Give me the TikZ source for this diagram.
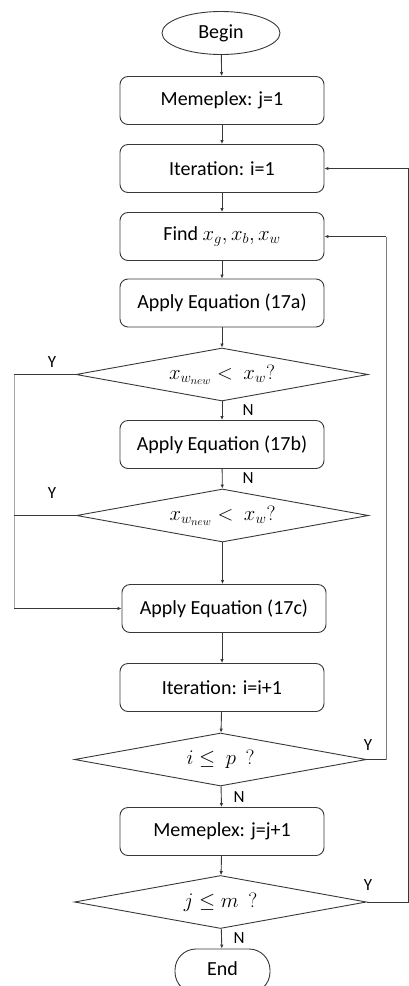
\documentclass[tikz,border=0pt]{standalone}
\usepackage{fontspec}
\setmainfont{Carlito}
\usetikzlibrary{shapes.geometric,arrows.meta}
\definecolor{ln}{HTML}{383838}
\begin{document}
\begin{tikzpicture}[x=1pt,y=-1pt,
  every node/.style={font=\fontsize{20}{24}\selectfont, text=black},
  box/.style={draw=ln, line width=0.9pt, rounded corners=8pt, minimum width=204pt, minimum height=48pt, inner sep=0pt},
  dec/.style={draw=ln, line width=0.9pt, diamond, shape aspect=5.5, minimum width=292pt, minimum height=53pt, inner sep=0pt, font=\fontsize{21}{24}\selectfont},
  lab/.style={font=\fontsize{17}{20}\selectfont, inner sep=0pt},
  arr/.style={draw=ln, line width=0.9pt, -{Latex[length=4pt,width=3.5pt]}},
  ln/.style={draw=ln, line width=0.9pt}]
\useasboundingbox (0,0) rectangle (409,986);
\node[draw=ln, line width=0.9pt, ellipse, minimum width=118pt, minimum height=43pt, inner sep=0pt] (begin) at (221,33) {Begin};
\node[box] (mem1) at (222,100.5) {Memeplex: j=1};
\node[box] (it1) at (222,168.5) {Iteration: i=1};
\node[box] (find) at (222,236.5) {Find $x_g, x_b, x_w$};
\node[box] (a) at (222,303) {Apply Equation (17a)};
\node[dec] (d1) at (222,374.5) {$x_{w_{new}} <\ x_w?$};
\node[box] (b) at (222,444.5) {Apply Equation (17b)};
\node[dec] (d2) at (222.5,515.5) {$x_{w_{new}} <\ x_w?$};
\node[box] (c) at (224,608.5) {Apply Equation (17c)};
\node[box] (it2) at (222,687.5) {Iteration: i=i+1};
\node[dec] (d3) at (220.5,759.5) {$i \le\ p\ \ ?$};
\node[box] (mem2) at (222,831.5) {Memeplex: j=j+1};
\node[dec] (d4) at (220.5,902) {$j \le m\ \ ?$};
\node[draw=ln, line width=0.9pt, rounded corners=21pt, minimum width=95pt, minimum height=44pt, inner sep=0pt] (end) at (222.5,971) {};
\node at (222.5,969) {End};

\draw[arr] (begin) -- (mem1);
\draw[arr] (mem1) -- (it1);
\draw[arr] (it1) -- (find);
\draw[arr] (find) -- (a);
\draw[arr] (a) -- (d1);
\draw[arr] (d1) -- (b);
\draw[arr] (b) -- (d2);
\draw[arr] (d2.south) -- (d2.south |- c.north);
\draw[arr] (c.south -| it2) -- (it2);
\draw[arr] (it2) -- (d3);
\draw[arr] (d3) -- (mem2);
\draw[arr] (mem2) -- (d4);
\draw[arr] (d4) -- (end);

\coordinate (l1) at (14,374.5);
\coordinate (l2) at (14,608.5);
\draw[ln] (d1.west) -- (l1);
\draw[ln, draw=gray!70] (l1) -- (l2);
\draw[ln] (d2.west) -- (d2.west -| l1);
\draw[arr] (l2) -- (c.west);

\coordinate (r1) at (386,759.5);
\coordinate (r2) at (386,236.5);
\draw[ln] (d3.east) -- (r1);
\draw[ln, draw=gray] (r1) -- (r2);
\draw[arr] (r2) -- (find.east);

\coordinate (q1) at (408.5,902);
\coordinate (q2) at (408.5,168.5);
\draw[ln] (d4.east) -- (q1) -- (q2);
\draw[arr] (q2) -- (it1.east);

\node[lab] (y1) at (52,362) {Y};
\node[lab] (y2) at (52,493) {Y};
\node[lab] (y3) at (368,745) {Y};
\node[lab] (y4) at (368,885) {Y};
\node[lab] (n1) at (248,410) {N};
\node[lab] (n2) at (248,478) {N};
\node[lab] (n3) at (239,797) {N};
\node[lab] (n4) at (239,938) {N};
\end{tikzpicture}
\end{document}
